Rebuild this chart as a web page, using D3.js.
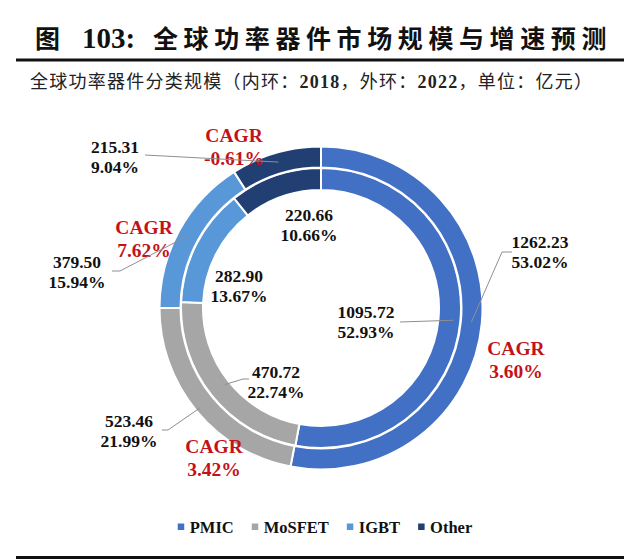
<!DOCTYPE html>
<html lang="zh">
  <head>
    <meta charset="UTF-8" />
    <title>全球功率器件市场规模与增速预测</title>
    <script src="https://d3js.org/d3.v7.min.js"></script>
    <style>
      body { margin: 0; background: #fff; }
      .num { font-family: "Liberation Serif", "Times New Roman", serif; font-weight: bold; }
      .cjk { font-family: "Noto Sans CJK SC", sans-serif; }
      .label { font-size: 17.5px; fill: #111; }
      .cagr { font-size: 19.5px; fill: #c3121a; }
      .leader { fill: none; stroke: #8f8f8f; stroke-width: 1px; }
      .slice { stroke: #fff; stroke-width: 2px; }
    </style>
  </head>
  <body>
    <svg id="chart" width="640" height="559"></svg>
    <script>
      // data
      const categories = ["PMIC", "MoSFET", "IGBT", "Other"];
      const values2018 = [1095.72, 470.72, 282.90, 220.66];
      const values2022 = [1262.23, 523.46, 379.50, 215.31];
      const share2018 = ["52.93%", "22.74%", "13.67%", "10.66%"];
      const share2022 = ["53.02%", "21.99%", "15.94%", "9.04%"];
      const cagr = ["3.60%", "3.42%", "7.62%", "-0.61%"];

      const colors = ["#4270c4", "#a6a6a6", "#5898d8", "#223f74"];

      const svg = d3.select("#chart");
      const width = +svg.attr("width");
      const cx = 321, cy = 308;

      // title + rules
      const title = svg.append("text").attr("y", 48).attr("fill", "#111");
      title.append("tspan").attr("class", "cjk").attr("x", 35)
        .style("font-size", "25px").style("font-weight", 700).text("图");
      title.append("tspan").attr("class", "num").attr("x", 82)
        .style("font-size", "29px").text("103:");
      title.append("tspan").attr("class", "cjk").attr("x", 153)
        .style("font-size", "25px").style("font-weight", 700)
        .style("letter-spacing", "5.6px").text("全球功率器件市场规模与增速预测");

      svg.append("rect").attr("x", 16).attr("y", 58.5).attr("width", width - 32).attr("height", 3).attr("fill", "#111");
      svg.append("rect").attr("x", 16).attr("y", 556).attr("width", width - 32).attr("height", 3).attr("fill", "#111");

      const sub = svg.append("text").attr("x", 30).attr("y", 88)
        .attr("textLength", 562).attr("lengthAdjust", "spacing")
        .style("font-size", "18px").attr("fill", "#222");
      const subParts = [["全球功率器件分类规模（内环：", "cjk"], ["2018", "num"], ["，外环：", "cjk"],
                        ["2022", "num"], ["，单位：亿元）", "cjk"]];
      subParts.forEach(([t, c]) => sub.append("tspan").attr("class", c).text(t));

      // rings
      const pie = d3.pie().sort(null).value(d => d);
      const inner = { arcs: pie(values2018), r0: 118, r1: 140 };
      const outer = { arcs: pie(values2022), r0: 140.5, r1: 161.5 };

      const g = svg.append("g").attr("transform", `translate(${cx},${cy})`);
      [inner, outer].forEach(ring => {
        const arc = d3.arc().innerRadius(ring.r0).outerRadius(ring.r1);
        g.selectAll(null).data(ring.arcs).join("path")
          .attr("class", "slice")
          .attr("fill", (d, i) => colors[i])
          .attr("d", arc);
      });

      const polar = (a, r) => [r * Math.sin(a), -r * Math.cos(a)];
      const mid = d => (d.startAngle + d.endAngle) / 2;

      // label placement (offsets from the ring centre)
      const outerLayout = [
        { at: [219, -56], r: 151, path: [[181, -56], [191, -56]] },
        { at: [-192, 123], r: 157, path: [[-153, 122], [-159, 122]] },
        { at: [-244, -36], r: 151, path: [[-201, -37], [-209, -37]] },
        { at: [-206, -151], r: 152, path: [[-176, -153]] }
      ];
      const innerLayout = [
        { at: [45, 14], r: 133, path: [[79, 14]] },
        { at: [-45, 74], r: 123, path: [[-78, 71], [-72, 71]] },
        { at: [-82, -22] },
        { at: [-12, -83] }
      ];
      const cagrLayout = [[195, 51], [-107, 149], [-177, -70], [-87, -162]];

      function twoLines(sel, pos, a, b, cls, lh) {
        const t = sel.append("text").attr("class", "num " + cls)
          .attr("text-anchor", "middle").attr("dominant-baseline", "central");
        t.append("tspan").attr("x", pos[0]).attr("y", pos[1] - lh / 2).text(a);
        t.append("tspan").attr("x", pos[0]).attr("y", pos[1] + lh / 2).text(b);
      }

      const labels = g.append("g");
      const leaders = g.append("g");
      const line = d3.line();

      [[outer, outerLayout, values2022, share2022], [inner, innerLayout, values2018, share2018]]
        .forEach(([ring, layout, vals, shares]) => {
          ring.arcs.forEach((d, i) => {
            const L = layout[i];
            twoLines(labels, L.at, vals[i].toFixed(2), shares[i], "label", 19.5);
            if (L.path) {
              leaders.append("path").attr("class", "leader")
                .attr("d", line([polar(mid(d), L.r), ...L.path]));
            }
          });
        });

      categories.forEach((c, i) => twoLines(labels, cagrLayout[i], "CAGR", cagr[i], "cagr", 23));

      // legend
      const legend = svg.append("g").attr("transform", "translate(0,527)");
      const items = legend.selectAll("g").data(categories).join("g");
      items.append("rect").attr("y", -3.5).attr("width", 6.5).attr("height", 6.5)
        .attr("fill", (d, i) => colors[i]);
      items.append("text").attr("class", "num").attr("x", 12)
        .attr("dominant-baseline", "central").style("font-size", "16.5px").attr("fill", "#111")
        .text(d => d);
      let x = 0;
      const offsets = [];
      items.each(function () {
        offsets.push(x);
        x += 12 + d3.select(this).select("text").node().getComputedTextLength() + 18;
      });
      const total = x - 18;
      const start = 325 - total / 2;
      items.attr("transform", (d, i) => `translate(${start + offsets[i]},0)`);
    </script>
  </body>
</html>
